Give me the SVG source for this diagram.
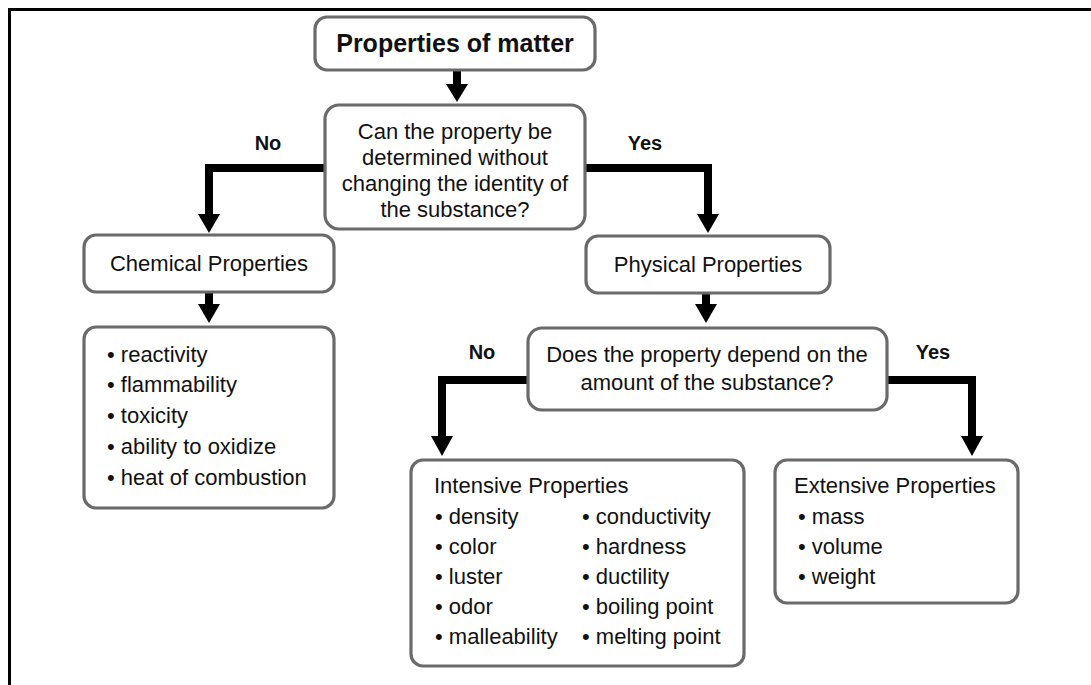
<svg xmlns="http://www.w3.org/2000/svg" width="1091" height="685" viewBox="0 0 1091 685">
<defs>
<style>
.box{fill:#fff;stroke:#6a6a6a;stroke-width:3.2}
.t{font-family:"Liberation Sans",Arial,Helvetica,sans-serif;font-size:22px;fill:#111}
.c{text-anchor:middle}
.b{font-weight:bold}
.lbl{font-family:"Liberation Sans",Arial,Helvetica,sans-serif;font-size:20px;font-weight:bold;fill:#111;text-anchor:middle}
.ln{fill:none;stroke:#000;stroke-width:8;stroke-linejoin:miter}
.hd{fill:#000}
</style>
</defs>
<rect width="1091" height="685" fill="#fff"/>
<path d="M9.5,685 V9.5 H1091" fill="none" stroke="#000" stroke-width="3"/>

<g id="connectors">
<path class="ln" d="M457,70 V85"/>
<polygon class="hd" points="446,84 468,84 457,102"/>
<path class="ln" d="M325,168 H209 V216"/>
<polygon class="hd" points="198,214 220,214 209,233"/>
<path class="ln" d="M585,168 H708 V216"/>
<polygon class="hd" points="697,214 719,214 708,233"/>
<path class="ln" d="M209,292 V306"/>
<polygon class="hd" points="198,304 220,304 209,323"/>
<path class="ln" d="M706,293 V306"/>
<polygon class="hd" points="695,304 717,304 706,323"/>
<path class="ln" d="M528,380 H442 V438"/>
<polygon class="hd" points="431,436 453,436 442,456"/>
<path class="ln" d="M887,380 H972 V438"/>
<polygon class="hd" points="961,436 983,436 972,456"/>
<text class="lbl" x="268" y="150">No</text>
<text class="lbl" x="645" y="150">Yes</text>
<text class="lbl" x="482" y="359">No</text>
<text class="lbl" x="933" y="359">Yes</text>
</g>

<g id="node-matter">
<rect class="box" x="315" y="17" width="280" height="53" rx="12"/>
<text class="t c b" x="455" y="52" style="font-size:25px">Properties of matter</text>
</g>

<g id="node-q1">
<rect class="box" x="325" y="105" width="260" height="124" rx="14"/>
<text class="t c" x="455" y="139">Can the property be</text>
<text class="t c" x="455" y="165">determined without</text>
<text class="t c" x="455" y="191">changing the identity of</text>
<text class="t c" x="455" y="217">the substance?</text>
</g>

<g id="node-chemical">
<rect class="box" x="84" y="235" width="250" height="57" rx="12"/>
<text class="t c" x="209" y="271">Chemical Properties</text>
</g>

<g id="node-chemical-list">
<rect class="box" x="84" y="327" width="250" height="181" rx="12"/>
<text class="t" x="107" y="362">• reactivity</text>
<text class="t" x="107" y="392">• flammability</text>
<text class="t" x="107" y="423">• toxicity</text>
<text class="t" x="107" y="454">• ability to oxidize</text>
<text class="t" x="107" y="485">• heat of combustion</text>
</g>

<g id="node-physical">
<rect class="box" x="586" y="236" width="244" height="57" rx="12"/>
<text class="t c" x="708" y="272">Physical Properties</text>
</g>

<g id="node-q2">
<rect class="box" x="528" y="328" width="359" height="82" rx="14"/>
<text class="t c" x="707" y="362">Does the property depend on the</text>
<text class="t c" x="707" y="390">amount of the substance?</text>
</g>

<g id="node-intensive">
<rect class="box" x="411" y="460" width="333" height="206" rx="12"/>
<text class="t" x="434" y="493">Intensive Properties</text>
<text class="t" x="435" y="524">• density</text>
<text class="t" x="435" y="554">• color</text>
<text class="t" x="435" y="584">• luster</text>
<text class="t" x="435" y="614">• odor</text>
<text class="t" x="435" y="644">• malleability</text>
<text class="t" x="582" y="524">• conductivity</text>
<text class="t" x="582" y="554">• hardness</text>
<text class="t" x="582" y="584">• ductility</text>
<text class="t" x="582" y="614">• boiling point</text>
<text class="t" x="582" y="644">• melting point</text>
</g>

<g id="node-extensive">
<rect class="box" x="775" y="460" width="243" height="143" rx="12"/>
<text class="t" x="794" y="493">Extensive Properties</text>
<text class="t" x="798" y="524">• mass</text>
<text class="t" x="798" y="554">• volume</text>
<text class="t" x="798" y="584">• weight</text>
</g>
</svg>
